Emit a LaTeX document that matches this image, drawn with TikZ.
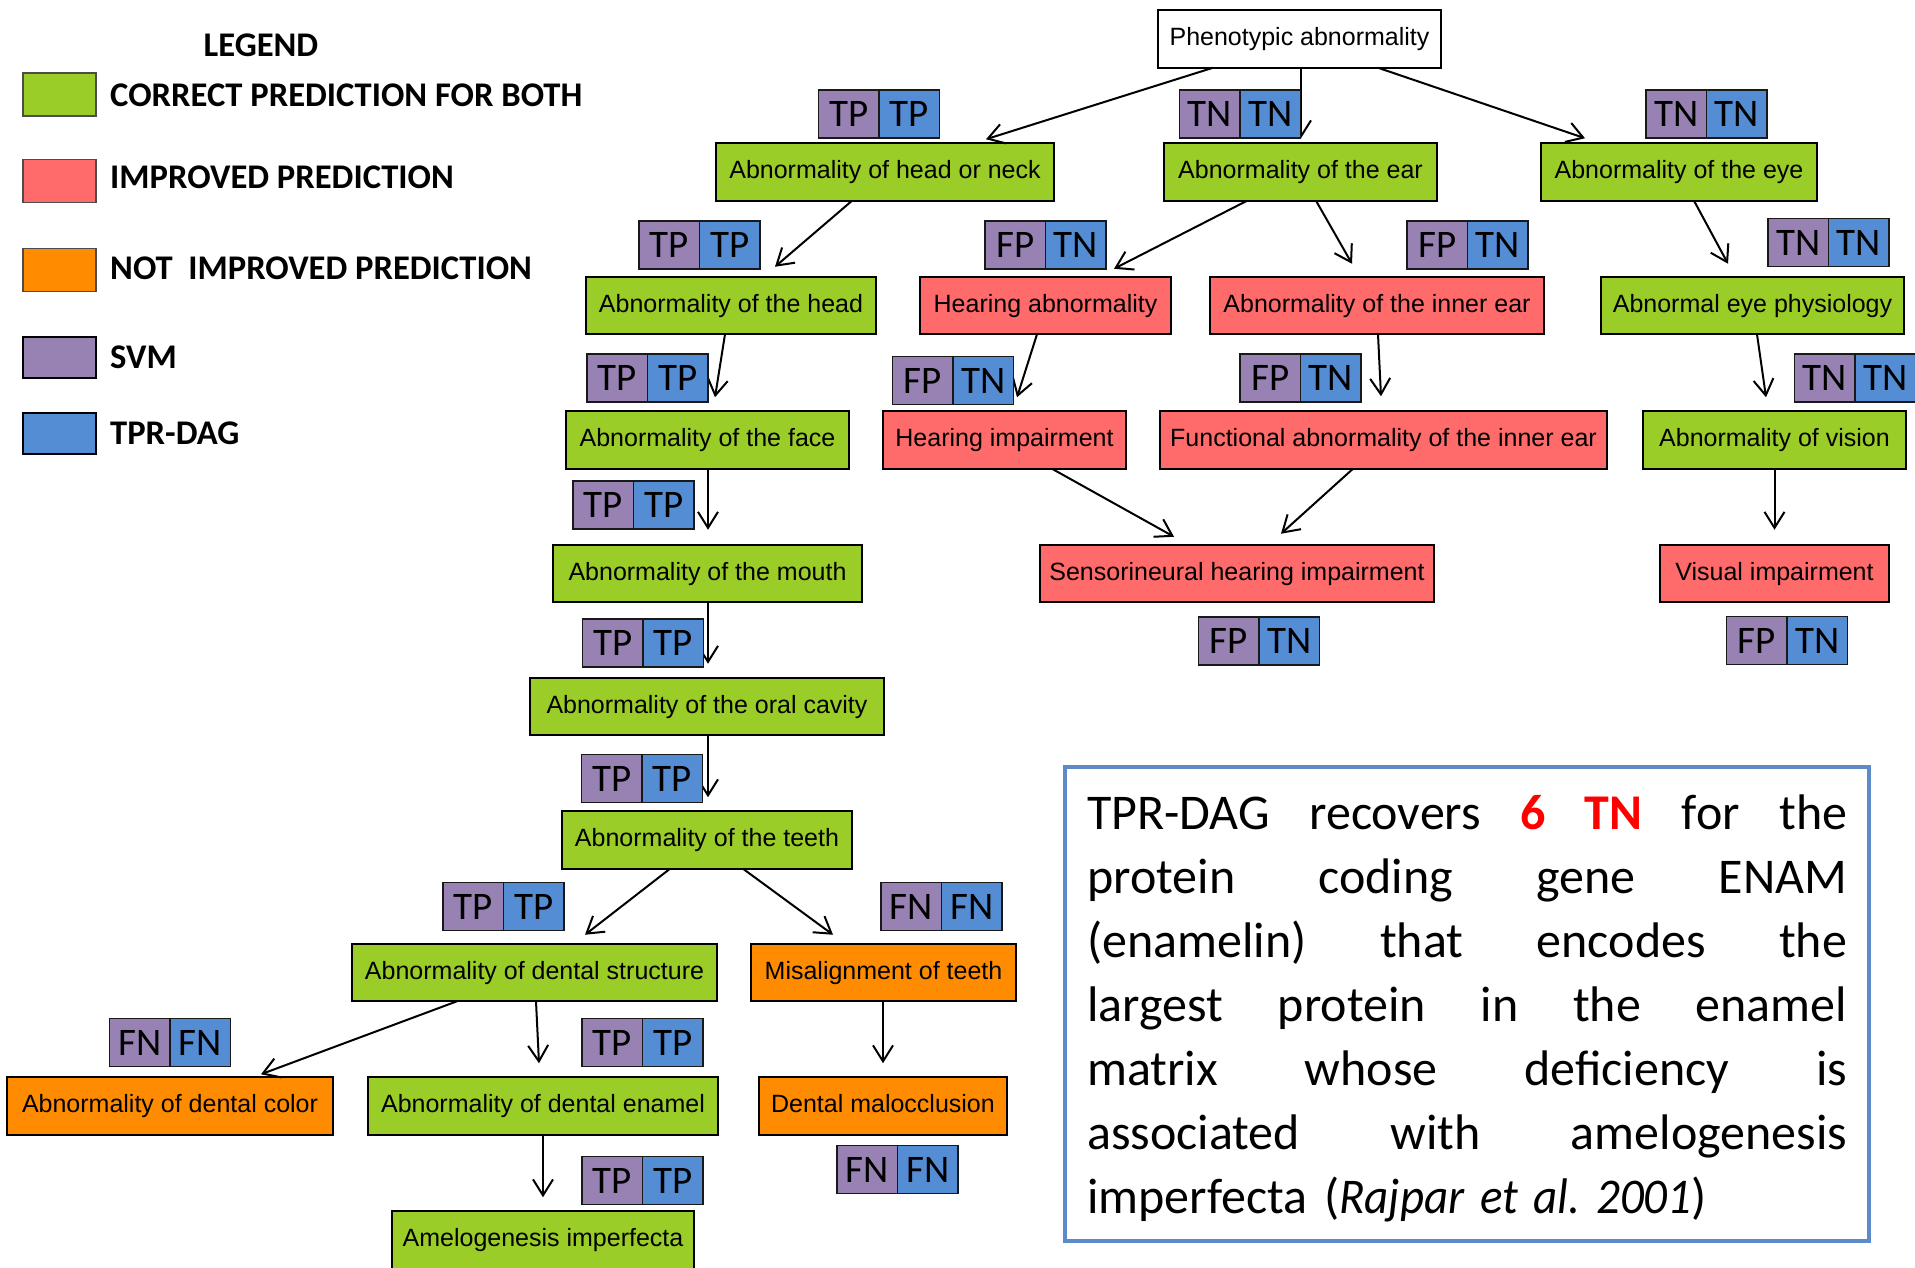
\documentclass[tikz,border=0pt]{standalone}
\usepackage{fontspec}
\setmainfont{Liberation Sans}
\newfontfamily\calfont{Carlito}
\usetikzlibrary{arrows.meta,calc}
\definecolor{cgreen}{RGB}{155,205,40}
\definecolor{cred}{RGB}{255,106,106}
\definecolor{corange}{RGB}{255,140,0}
\definecolor{cpurple}{RGB}{152,130,180}
\definecolor{cblue}{RGB}{84,141,212}
\definecolor{cframe}{RGB}{91,139,201}
\tikzset{
 box/.style={draw=black, line width=2.2pt, minimum height=57.5pt, inner sep=0pt, outer sep=0pt, font=\fontsize{25}{30}\selectfont, text height=18pt, text depth=5pt},
 gbox/.style={box, fill=cgreen},
 rbox/.style={box, fill=cred},
 obox/.style={box, fill=corange},
 cell/.style={draw=black!90, line width=1.8pt, minimum width=60.5pt, minimum height=48pt, inner sep=0pt, outer sep=0pt, font=\calfont\fontsize{39}{40}\selectfont},
 svmcell/.style={cell, fill=cpurple},
 tprcell/.style={cell, fill=cblue},
 arr/.style={line width=2pt, -{Straight Barb[length=16pt,width=20pt,line width=2pt]}},
 swatch/.style={minimum width=73pt, minimum height=43pt, inner sep=0pt, outer sep=0pt},
 legtext/.style={anchor=west, inner sep=0pt, font=\calfont\bfseries\fontsize{34.6}{40}\selectfont},
}
\newcommand\badge[5]{%
 \node[svmcell,anchor=east] (#1s) at (#2,#3) {#4};
 \node[tprcell,anchor=west] (#1t) at (#2,#3) {#5};}
\newcommand\jline[1]{\leavevmode\hbox to 760pt{#1}}
\begin{document}
\begin{tikzpicture}[x=1pt,y=-1pt]
\useasboundingbox (0,0) rectangle (1915,1267);
\fill[white] (0,0) rectangle (1915,1267);

% legend
\node[inner sep=0pt, font=\calfont\bfseries\fontsize{34.6}{40}\selectfont] (leg) at (261,45) {LEGEND};
\node[swatch, fill=cgreen, draw=black!70, line width=1.2pt] (sg) at (59.5,94.5) {};
\node[swatch, fill=cred, draw=black!70, line width=1.2pt] (sr) at (59.5,181) {};
\node[swatch, fill=corange, draw=black!70, line width=1.2pt] (so) at (59.5,270) {};
\node[swatch, fill=cpurple, draw=black, line width=2pt, minimum height=41pt] (sp) at (59.5,357) {};
\node[swatch, fill=cblue, draw=black, line width=2pt, minimum height=41pt] (sb) at (59.5,433.5) {};
\node[legtext] (tg) at (110,95) {CORRECT PREDICTION FOR BOTH};
\node[legtext] (tr) at (110,177) {IMPROVED PREDICTION};
\node[legtext] (to) at (110,268) {NOT\ \ IMPROVED PREDICTION};
\node[legtext] (tp) at (110,357) {SVM};
\node[legtext] (tb) at (110,433) {TPR-DAG};

% nodes
\node[box, fill=white, minimum width=283pt] (phen) at (1299.5,39) {Phenotypic abnormality};
\node[gbox, minimum width=338pt] (hon) at (885,172) {Abnormality of head or neck};
\node[gbox, minimum width=273pt] (ear) at (1300.5,172) {Abnormality of the ear};
\node[gbox, minimum width=276pt] (eye) at (1679,172) {Abnormality of the eye};
\node[gbox, minimum width=290pt] (head) at (731,305.5) {Abnormality of the head};
\node[rbox, minimum width=251pt] (hab) at (1045.5,305.5) {Hearing abnormality};
\node[rbox, minimum width=334pt] (inner) at (1377,305.5) {Abnormality of the inner ear};
\node[gbox, minimum width=303pt] (physio) at (1752.5,305.5) {Abnormal eye physiology};
\node[gbox, minimum width=283pt] (face) at (707.5,440) {Abnormality of the face};
\node[rbox, minimum width=243pt] (himp) at (1004.5,440) {Hearing impairment};
\node[rbox, minimum width=447pt] (func) at (1383.5,440) {Functional abnormality of the inner ear};
\node[gbox, minimum width=263pt] (vision) at (1774.5,440) {Abnormality of vision};
\node[gbox, minimum width=309pt] (mouth) at (707.5,573.5) {Abnormality of the mouth};
\node[rbox, minimum width=394pt] (sens) at (1237,573.5) {Sensorineural hearing impairment};
\node[rbox, minimum width=229pt] (visual) at (1774.5,573.5) {Visual impairment};
\node[gbox, minimum width=354pt] (oral) at (707,706.5) {Abnormality of the oral cavity};
\node[gbox, minimum width=290pt] (teeth) at (707,840) {Abnormality of the teeth};
\node[gbox, minimum width=365pt] (struct) at (534.5,972.5) {Abnormality of dental structure};
\node[obox, minimum width=265pt] (misal) at (883.5,972.5) {Misalignment of teeth};
\node[obox, minimum width=326pt] (color) at (170,1106) {Abnormality of dental color};
\node[gbox, minimum width=350pt] (enamel) at (543,1106) {Abnormality of dental enamel};
\node[obox, minimum width=248pt] (maloc) at (883,1106) {Dental malocclusion};
\node[gbox, minimum width=302pt] (amelo) at (543,1240) {Amelogenesis imperfecta};

% arrows
\draw[arr] ($(phen.south)+(-86.5,0)$) -- ($(hon.north)+(101,-4)$);
\draw[arr] ($(phen.south)+(1.5,0)$) -- ($(ear.north)+(0.5,-5)$);
\draw[arr] ($(phen.south)+(78.5,0)$) -- ($(eye.north)+(-94,-5)$);
\draw[arr] ($(hon.south)+(-33,0)$) -- ($(head.north)+(44,-10)$);
\draw[arr] ($(ear.south)+(-53.5,0)$) -- ($(hab.north)+(68.5,-8)$);
\draw[arr] ($(ear.south)+(15.5,0)$) -- ($(inner.north)+(-25,-13)$);
\draw[arr] ($(eye.south)+(15,0)$) -- ($(physio.north)+(-24.5,-13)$);
\draw[arr] ($(head.south)+(-6,0)$) -- ($(face.north)+(7.5,-14)$);
\draw[arr] ($(hab.south)+(-8.5,0)$) -- ($(himp.north)+(12.5,-14)$);
\draw[arr] ($(inner.south)+(1,0)$) -- ($(func.north)+(-2.5,-15)$);
\draw[arr] ($(physio.south)+(4.5,0)$) -- ($(vision.north)+(-8.5,-14)$);
\draw[arr] ($(face.south)+(0.5,0)$) -- ($(mouth.north)+(0.5,-15)$);
\draw[arr] ($(himp.south)+(47.5,0)$) -- ($(sens.north)+(-63,-8)$);
\draw[arr] ($(func.south)+(-30.5,0)$) -- ($(sens.north)+(44,-11)$);
\draw[arr] (vision.south) -- ($(visual.north)+(0,-15)$);
\draw[arr] ($(mouth.south)+(0.5,0)$) -- ($(oral.north)+(1,-14)$);
\draw[arr] ($(oral.south)+(1,0)$) -- ($(teeth.north)+(1,-14)$);
\draw[arr] ($(teeth.south)+(-37,0)$) -- ($(struct.north)+(50.5,-9)$);
\draw[arr] ($(teeth.south)+(36,0)$) -- ($(misal.north)+(-50.5,-9)$);
\draw[arr] ($(struct.south)+(-77.5,0)$) -- ($(color.north)+(91,-3)$);
\draw[arr] ($(struct.south)+(1.5,0)$) -- ($(enamel.north)+(-4,-14)$);
\draw[arr] ($(misal.south)+(-0.5,0)$) -- ($(maloc.north)+(0,-14)$);
\draw[arr] (enamel.south) -- ($(amelo.north)+(0,-14)$);

% badges
\badge{b1}{879}{114}{TP}{TP}
\badge{b2}{1240}{114}{TN}{TN}
\badge{b3}{1706.5}{114}{TN}{TN}
\badge{b4}{699.5}{245}{TP}{TP}
\badge{b5}{1045.5}{245}{FP}{TN}
\badge{b6}{1467.5}{245}{FP}{TN}
\badge{b7}{1828.5}{242.5}{TN}{TN}
\badge{b8}{647.5}{378}{TP}{TP}
\badge{b9}{953}{380.5}{FP}{TN}
\badge{b10}{1300.5}{378}{FP}{TN}
\badge{b11}{1855}{378}{TN}{TN}
\badge{b12}{633.5}{505}{TP}{TP}
\badge{b13}{1259}{641}{FP}{TN}
\badge{b14}{1787}{640.5}{FP}{TN}
\badge{b15}{643}{643}{TP}{TP}
\badge{b16}{642}{778.5}{TP}{TP}
\badge{b17}{503.5}{906.5}{TP}{TP}
\badge{b18}{941.5}{906.5}{FN}{FN}
\badge{b19}{170}{1042.5}{FN}{FN}
\badge{b20}{642.5}{1042.5}{TP}{TP}
\badge{b21}{642.5}{1180.5}{TP}{TP}
\badge{b22}{897.5}{1169.5}{FN}{FN}

% text box
\node[draw=cframe, line width=4pt, minimum width=804pt, minimum height=474pt, inner sep=0pt] (frame) at (1467,1004) {};
\node[anchor=north west, text width=760pt, inner sep=0pt, font=\calfont\fontsize{50}{64}\selectfont] (ftext) at (1087,795) {\frenchspacing%
\jline{TPR-DAG\hfil recovers\hfil \textcolor{red}{\bfseries 6}\hfil\textcolor{red}{\bfseries TN}\hfil for\hfil the}\\
\jline{protein\hfil coding\hfil gene\hfil ENAM}\\
\jline{(enamelin)\hfil that\hfil encodes\hfil the}\\
\jline{largest\hfil protein\hfil in\hfil the\hfil enamel}\\
\jline{matrix\hfil whose\hfil deficiency\hfil is}\\
\jline{associated\hfil with\hfil amelogenesis}\\
imperfecta (\scalebox{0.94}[1]{\textit{Rajpar et al. 2001}})};
\end{tikzpicture}
\end{document}
